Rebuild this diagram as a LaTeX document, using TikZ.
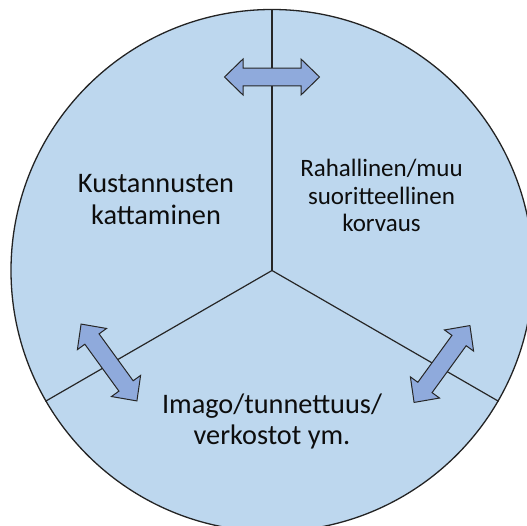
\documentclass[tikz,border=0pt]{standalone}
\usepackage{fontspec}
\setmainfont{Carlito}
\definecolor{discfill}{RGB}{189,215,238}
\definecolor{arrowfill}{RGB}{143,170,220}
\definecolor{rimline}{RGB}{35,35,35}
\tikzset{
  disc/.style={circle, draw=rimline, fill=discfill, line width=1.3pt,
    minimum size=522pt, inner sep=0pt},
  spoke/.style={draw=black!85, line width=1.2pt},
  label/.style={align=center, text=black!95, inner sep=0pt},
  dblarrow/.pic={
    \draw[fill=arrowfill, draw=black!85, line width=1pt, line join=miter]
      (-47.5,0) -- (-29,-18) -- (-29,-8.8) -- (29,-8.8) -- (29,-18)
      -- (47.5,0) -- (29,18) -- (29,8.8) -- (-29,8.8) -- (-29,18) -- cycle;
  }
}
\begin{document}
\begin{tikzpicture}[x=1pt, y=-1pt]
  \useasboundingbox (0,0) rectangle (527,526);
  \clip (0,0) rectangle (527,526);
  % the disc and its three sectors
  \node[disc] (wheel) at (272,270.5) {};
  \coordinate (hub) at (wheel.center);
  \draw[spoke] (hub) -- (wheel.north);
  \draw[spoke] (hub) -- (wheel.210);
  \draw[spoke] (hub) -- (wheel.330);
  % two-way arrows across each boundary
  \pic at (272,77) {dblarrow};
  \pic[rotate=-54] at (109,362.5) {dblarrow};
  \pic[rotate=54] at (442,364) {dblarrow};
  % sector labels
  \node[label, font=\fontsize{28.3}{32}\selectfont] (cost) at (156,199.5)
    {Kustannusten\\kattaminen};
  \node[label, font=\fontsize{25}{27.5}\selectfont] (pay) at (381.5,195.5)
    {Rahallinen/muu\\suoritteellinen\\korvaus};
  \node[label, font=\fontsize{28.3}{31}\selectfont] (image) at (272,421.5)
    {Imago/tunnettuus/\\verkostot ym.};
\end{tikzpicture}
\end{document}
